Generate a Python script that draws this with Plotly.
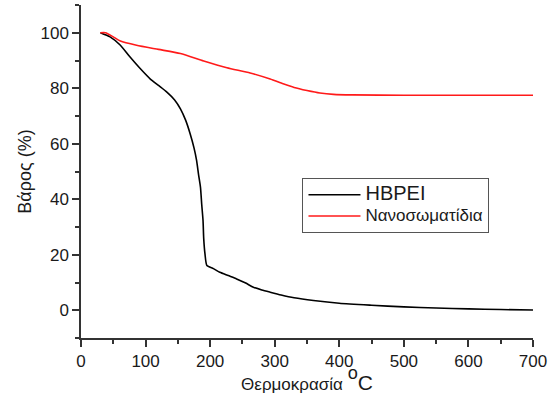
import plotly.graph_objects as go

# HBPEI (black)
hbpei_x = [30, 45, 61, 75, 92, 107, 120, 133, 145, 154, 162, 169, 175, 179, 182, 185, 187, 189, 190, 192, 195, 205, 215, 228, 241, 255, 267, 280, 293, 310, 330, 360, 400, 450, 500, 550, 600, 650, 700]
hbpei_y = [100, 98.5, 95.5, 91.5, 87, 83.4, 81, 78.6, 75.8, 72.6, 68.5, 63.6, 58.5, 54, 49, 44.4, 38, 32.3, 26, 20.3, 16.1, 15, 13.7, 12.5, 11.3, 9.8, 8.3, 7.3, 6.5, 5.5, 4.5, 3.5, 2.5, 1.8, 1.2, 0.8, 0.5, 0.25, 0.1]

# Nanoparticles (red)
nano_x = [30, 38, 50, 61, 86, 120, 154, 190, 226, 262, 293, 313, 330, 350, 370, 391, 420, 500, 600, 700]
nano_y = [100, 100, 98.5, 97, 95.5, 94, 92.5, 89.8, 87.4, 85.5, 83.3, 81.6, 80.3, 79.2, 78.3, 77.8, 77.6, 77.5, 77.5, 77.5]

x_ticks = [0, 100, 200, 300, 400, 500, 600, 700]
y_ticks = [0, 20, 40, 60, 80, 100]

FONT = "Liberation Sans, Arial"
TXT = "#1a1a1a"

fig = go.Figure()
fig.add_trace(go.Scatter(x=hbpei_x, y=hbpei_y, mode="lines",
                         line=dict(color="black", width=1.6, shape="spline", smoothing=0.6),
                         name="<span style='font-size:20px'>HBPEI</span>"))
fig.add_trace(go.Scatter(x=nano_x, y=nano_y, mode="lines",
                         line=dict(color="#ff1a1a", width=1.6, shape="spline", smoothing=0.6),
                         name="<span style='font-size:17px'>Νανοσωματίδια</span>"))

axis_common = dict(showline=True, linecolor="#333333", linewidth=1.5, showgrid=False,
                   zeroline=False, ticks="outside", ticklen=7, tickwidth=1.5, tickcolor="#333333",
                   tickfont=dict(family=FONT, size=17, color=TXT),
                   mirror=False)

fig.update_xaxes(range=[0, 700], tickvals=x_ticks, ticktext=[str(v) for v in x_ticks],
                 minor=dict(ticks="outside", ticklen=4, tickwidth=1.5, tickcolor="#333333", dtick=50, tick0=0),
                 title=dict(text="<span style='font-size:17px'>Θερμοκρασία </span><span style='font-size:26px'><sup>o</sup></span><span style='font-size:21px'>C</span>",
                            font=dict(family=FONT, size=17, color=TXT), standoff=1),
                 **axis_common)
fig.update_yaxes(range=[-10, 110], tickvals=y_ticks, ticktext=[str(v) for v in y_ticks],
                 minor=dict(ticks="outside", ticklen=4, tickwidth=1.5, tickcolor="#333333", dtick=10, tick0=0),
                 title=dict(text="Βάρος (%)", font=dict(family=FONT, size=18, color=TXT),
                            standoff=4),
                 **axis_common)

fig.update_layout(
    width=552, height=394,
    margin=dict(l=81, r=19, t=5, b=56),
    plot_bgcolor="white", paper_bgcolor="white",
    showlegend=True,
    legend=dict(x=0.49, y=0.48, xanchor="left", yanchor="top",
                bgcolor="white", bordercolor="#555555", borderwidth=1,
                font=dict(family=FONT, size=14, color=TXT),
                itemwidth=52, tracegroupgap=0),
)

fig.write_html("out.html")
